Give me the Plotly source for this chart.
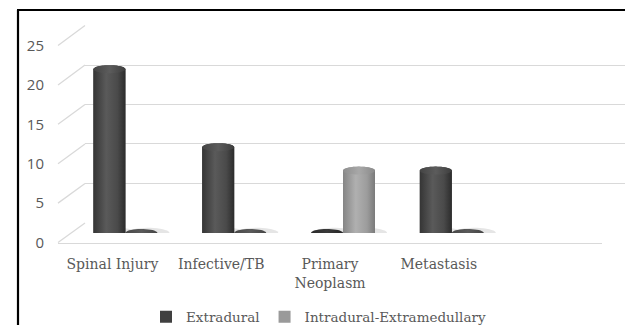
import numpy as np
import plotly.graph_objects as go

# Data
categories = ["Spinal Injury", "Infective/TB", "Primary<br>Neoplasm", "Metastasis"]
extradural = [21, 11, 0, 8]
intradural_extramedullary = [0, 0, 8, 0]
y_ticks = [0, 5, 10, 15, 20, 25]

W, H = 625, 325
N_SLOTS = 5  # category slots on the floor (last one empty)


def px(x):
    return x / W


def py(y):
    return 1 - y / H


# Pixel geometry of the three depth planes of the pseudo-3D chart
FRONT = dict(x0=58, x1=602, y0=242.5, y25=45.5)
MID = dict(x0=71, x1=615, y0=233, y25=38)
BACK = dict(x0=85, x1=625, y0=223, y25=25.5)


def plane_y(plane, v):
    return plane["y0"] + (plane["y25"] - plane["y0"]) * v / 25.0


series = [
    dict(name="Extradural", values=extradural, offset=-0.147, color="#404040",
         body=[[0, "#353535"], [0.4, "#5a5a5a"], [0.75, "#4a4a4a"], [1, "#2c2c2c"]],
         cap=[[0, "#444444"], [0.5, "#5c5c5c"], [1, "#3e3e3e"]],
         disc=[[0, "#2a2a2a"], [0.5, "#3a3a3a"], [1, "#262626"]]),
    dict(name="Intradural-Extramedullary", values=intradural_extramedullary, offset=0.147,
         color="#9a9a9a",
         body=[[0, "#858585"], [0.4, "#b0b0b0"], [0.75, "#9c9c9c"], [1, "#7a7a7a"]],
         cap=[[0, "#8e8e8e"], [0.5, "#a8a8a8"], [1, "#8a8a8a"]],
         disc=[[0, "#474747"], [0.5, "#5a5a5a"], [1, "#444444"]]),
]

half_w = 0.147          # cylinder radius in category units
ry = 4.0 / 7.8          # ellipse half-height in value units

fig = go.Figure()

# Base bars (one trace per series); the cylinder shading is layered on top
for s in series:
    fig.add_trace(go.Bar(
        x=list(range(len(categories))), y=s["values"], name=s["name"],
        legendgroup=s["name"], xaxis="x3", yaxis="y3",
        marker=dict(color=s["color"], line=dict(width=0)),
        offset=s["offset"] - half_w, width=2 * half_w,
        hovertemplate="%{y}<extra>" + s["name"] + "</extra>"))


def arc(cx, cy, a0, a1, n=40):
    t = np.linspace(a0, a1, n)
    return list(cx + half_w * np.cos(t)), list(cy + ry * np.sin(t))


def shaded(xs, ys, scale):
    return go.Scatter(x=xs, y=ys, xaxis="x3", yaxis="y3", mode="none", fill="toself",
                      fillgradient=dict(type="horizontal", colorscale=scale),
                      hoverinfo="skip", showlegend=False)


for s in series:
    for i, v in enumerate(s["values"]):
        cx = i + s["offset"]
        # soft shadow on the floor
        sx, sy = arc(cx + 0.06, 0, 0, 2 * np.pi)
        sx = [cx + 0.06 + (x - cx - 0.06) * 1.35 for x in sx]
        sy = [y * 1.3 for y in sy]
        fig.add_trace(go.Scatter(x=sx, y=sy, xaxis="x3", yaxis="y3", mode="none",
                                 fill="toself", fillcolor="rgba(0,0,0,0.10)",
                                 hoverinfo="skip", showlegend=False))
        if v > 0:
            # body: left side up, top arc, right side down, bottom arc
            tx, ty = arc(cx, v, np.pi, 0)
            bx, by = arc(cx, 0, 0, -np.pi)
            fig.add_trace(shaded([cx - half_w] + tx + [cx + half_w] + bx,
                                 [0] + ty + [0] + by, s["body"]))
            cxs, cys = arc(cx, v, 0, 2 * np.pi)
            fig.add_trace(shaded(cxs, cys, s["cap"]))
        else:
            dx, dy = arc(cx, 0, 0, 2 * np.pi)
            fig.add_trace(shaded(dx, dy, s["disc"]))

# anchor traces for the back wall grid and the front axes
fig.add_trace(go.Scatter(x=[0], y=[0], xaxis="x2", yaxis="y2", mode="none",
                         showlegend=False, hoverinfo="skip"))
fig.add_trace(go.Scatter(x=[0], y=[0], xaxis="x", yaxis="y", mode="none",
                         showlegend=False, hoverinfo="skip"))

grid_color = "#d9d9d9"

# Diagonal side-wall lines joining front tick positions to back gridlines
shapes = []
for v in y_ticks:
    shapes.append(dict(type="line", xref="paper", yref="paper",
                       x0=px(FRONT["x0"]), y0=py(plane_y(FRONT, v)),
                       x1=px(BACK["x0"]), y1=py(plane_y(BACK, v)),
                       line=dict(color=grid_color, width=1.3), layer="below"))
# Outer frame (left and top edges)
shapes.append(dict(type="line", xref="paper", yref="paper", x0=px(18), y0=py(10),
                   x1=px(18), y1=0, line=dict(color="black", width=2.2)))
shapes.append(dict(type="line", xref="paper", yref="paper", x0=px(17), y0=py(10),
                   x1=1, y1=py(10), line=dict(color="black", width=2.2)))

serif = "DejaVu Serif, Liberation Serif, serif"
text_grey = "#595959"

fig.update_layout(
    width=W, height=H,
    margin=dict(l=0, r=0, t=0, b=0, autoexpand=False),
    paper_bgcolor="white", plot_bgcolor="rgba(0,0,0,0)",
    showlegend=True, barmode="overlay",
    legend=dict(orientation="h", xref="container", yref="container",
                x=px(146), xanchor="left", y=py(317), yanchor="middle",
                itemwidth=30,
                font=dict(family=serif, size=13.5, color=text_grey),
                bgcolor="rgba(0,0,0,0)", traceorder="normal"),
    xaxis=dict(domain=[px(FRONT["x0"]), px(FRONT["x1"])], range=[-0.5, N_SLOTS - 0.5],
               tickmode="array", tickvals=list(range(len(categories))), ticktext=categories,
               showgrid=False, zeroline=False, showline=True, linecolor=grid_color,
               linewidth=1.3, ticks="", anchor="y", ticklabelstandoff=9,
               tickfont=dict(family=serif, size=14, color=text_grey)),
    yaxis=dict(domain=[py(FRONT["y0"]), py(FRONT["y25"])], range=[0, 25],
               tickmode="array", tickvals=y_ticks, showgrid=False, zeroline=False,
               showline=False, ticks="", anchor="free", position=px(44),
               tickfont=dict(family="Open Sans, Liberation Sans, sans-serif", size=15,
                             color=text_grey)),
    xaxis2=dict(domain=[px(BACK["x0"]), 1], range=[0, 1], visible=False, anchor="y2"),
    yaxis2=dict(domain=[py(BACK["y0"]), py(BACK["y25"])], range=[-0.01, 25.01],
                tickvals=y_ticks, showgrid=True, gridcolor=grid_color, gridwidth=1.3,
                zeroline=False, showticklabels=False, ticks="", anchor="x2"),
    xaxis3=dict(domain=[px(MID["x0"]), px(MID["x1"])], range=[-0.5, N_SLOTS - 0.5],
                visible=False, anchor="y3"),
    yaxis3=dict(domain=[py(MID["y0"]), py(MID["y25"])], range=[0, 25],
                visible=False, anchor="x3"),
    shapes=shapes,
)

fig.write_html("out.html")
